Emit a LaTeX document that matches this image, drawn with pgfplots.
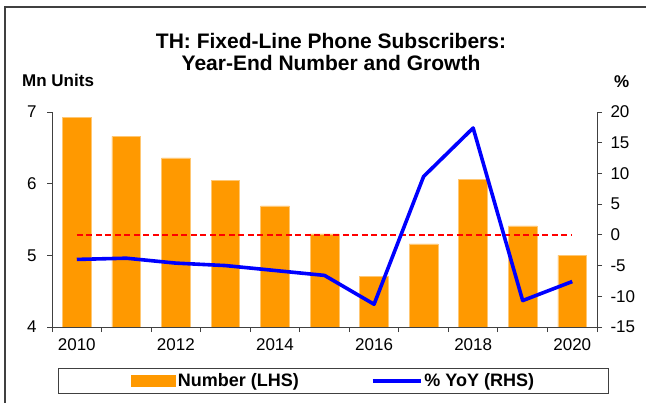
\documentclass[border=0pt]{standalone}
\usepackage{pgfplots}
\pgfplotsset{compat=1.18}
\usepackage{fontspec}
\setmainfont{Liberation Sans}
\definecolor{barorange}{RGB}{255,153,0}
\definecolor{axgray}{RGB}{64,64,64}
\definecolor{framegray}{RGB}{64,64,64}
\newcommand{\tfont}{\fontsize{17bp}{20bp}\selectfont}
\newcommand{\lfont}{\fontsize{18bp}{21bp}\selectfont}
\begin{document}
\begin{tikzpicture}
\path[use as bounding box] (0bp,0bp) rectangle (646bp,403bp);
\draw[framegray, line width=1.2bp] (5bp,0bp) -- (5bp,396bp) -- (646bp,396bp);
\node[anchor=base, font=\bfseries\fontsize{21bp}{24bp}\selectfont, inner sep=0pt] at (331bp,354.7bp) {TH: Fixed-Line Phone Subscribers:};
\node[anchor=base, font=\bfseries\fontsize{21bp}{24bp}\selectfont, inner sep=0pt] at (331bp,332bp) {Year-End Number and Growth};
\node[anchor=base west, font=\bfseries\tfont, inner sep=0pt] at (22bp,316.3bp) {Mn Units};
\node[anchor=base west, font=\bfseries\tfont, inner sep=0pt] at (614bp,315bp) {\%};
\begin{axis}[
  scale only axis, width=545bp, height=215bp,
  at={(52bp,76bp)}, anchor=south west,
  xmin=2009.5, xmax=2020.5, ymin=4, ymax=7,
  axis x line*=bottom, axis y line*=left,
  axis line style={axgray, line width=1bp},
  tick align=outside,
  major tick length=5bp, minor tick length=5bp,
  tick style={axgray, line width=0.9bp},
  xtick={2010.5,2012.5,2014.5,2016.5,2018.5,2020.5},
  xticklabels={2010,2012,2014,2016,2018,2020},
  minor xtick={2009.5,2011.5,2013.5,2015.5,2017.5,2019.5},
  xticklabel style={xshift=-24.75bp, yshift=-3bp},
  ytick={4,5,6,7},
  yticklabel style={xshift=-7bp},
  ticklabel style={font=\tfont},
  /pgf/number format/assume math mode=true,
  ybar, bar width=28.7bp,
]
\addplot[fill=barorange, draw=barorange!55!white, line width=0.6bp] coordinates {
(2010,6.92) (2011,6.66) (2012,6.36) (2013,6.04) (2014,5.69) (2015,5.30)
(2016,4.71) (2017,5.16) (2018,6.06) (2019,5.41) (2020,5.00)};
\end{axis}
\begin{axis}[
  scale only axis, width=545bp, height=215bp,
  at={(52bp,76bp)}, anchor=south west,
  xmin=2009.5, xmax=2020.5, ymin=-15, ymax=20,
  axis x line=none, axis y line*=right,
  axis line style={axgray, line width=1bp},
  tick align=outside,
  major tick length=5bp,
  tick style={axgray, line width=0.9bp},
  ytick={-15,-10,-5,0,5,10,15,20},
  yticklabels={-15,-10,-5,0,5,10,15,20},
  yticklabel style={xshift=5bp},
  ticklabel style={font=\tfont},
  /pgf/number format/assume math mode=true,
  legend columns=2,
  legend cell align=left,
  legend style={at={(0.5165,-0.251)}, anchor=center, draw=axgray, line width=0.9bp,
    font=\bfseries\lfont, inner xsep=72bp, inner ysep=3.5bp,
    nodes={inner xsep=2bp, inner ysep=2bp},
    /tikz/every even column/.append style={column sep=70bp}},
]
\addlegendimage{legend image code/.code={\fill[barorange] (0bp,-5.5bp) rectangle (44bp,5.5bp);}}
\addlegendentry{Number (LHS)}
\addplot[red, line width=1.6bp, dash pattern=on 6bp off 3.5bp, forget plot] coordinates {(2010,0) (2020,0)};
\addplot[blue, line width=3.6bp, line join=round,
  legend image code/.code={\draw[blue, line width=3.6bp] (0bp,0bp) -- (48bp,0bp);}] coordinates {
(2010,-4.0) (2011,-3.8) (2012,-4.6) (2013,-5.0) (2014,-5.8) (2015,-6.6)
(2016,-11.3) (2017,9.5) (2018,17.4) (2019,-10.7) (2020,-7.6)};
\addlegendentry{\% YoY (RHS)}
\end{axis}
\end{tikzpicture}
\end{document}
